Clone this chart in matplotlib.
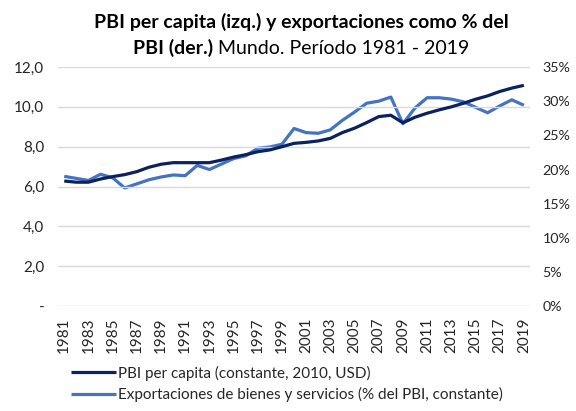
import matplotlib
matplotlib.use("Agg")
from matplotlib import pyplot as plt
from matplotlib.ticker import FuncFormatter

plt.rcParams['font.family'] = ['Lato', 'DejaVu Sans']

years = list(range(1981, 2020))

# PBI per capita, miles de USD constantes 2010 (eje izq.)
pbi_pc = [6.28, 6.22, 6.22, 6.38, 6.50, 6.60, 6.75, 6.97, 7.12, 7.20,
          7.20, 7.20, 7.20, 7.33, 7.48, 7.60, 7.75, 7.84, 8.00, 8.17,
          8.22, 8.29, 8.42, 8.71, 8.93, 9.21, 9.51, 9.58, 9.20, 9.48,
          9.68, 9.85, 10.00, 10.18, 10.38, 10.55, 10.77, 10.94, 11.08]

# Exportaciones de bienes y servicios, % del PBI (eje der.)
export_pct = [19.0, 18.7, 18.4, 19.3, 18.8, 17.3, 17.9, 18.5, 18.9, 19.2,
              19.1, 20.6, 20.0, 20.8, 21.6, 22.0, 23.1, 23.3, 23.7, 26.0,
              25.4, 25.3, 25.8, 27.2, 28.4, 29.7, 30.0, 30.6, 26.7, 29.0,
              30.5, 30.5, 30.3, 29.9, 29.1, 28.3, 29.3, 30.2, 29.4]

left_ticks = [0, 2, 4, 6, 8, 10, 12]
right_ticks = [0, 5, 10, 15, 20, 25, 30, 35]
label_years = years[::2]

dark = '#0c2260'
blue = '#4472c4'
text_col = '#262626'

fig = plt.figure(figsize=(5.76, 4.11), dpi=100)
ax = fig.add_axes([0.101, 0.255, 0.819, 0.582])
ax2 = ax.twinx()

l1, = ax.plot(years, pbi_pc, color=dark, lw=2.3, solid_capstyle='butt', zorder=3,
              label='PBI per capita (constante, 2010, USD)')
l2, = ax2.plot(years, export_pct, color=blue, lw=2.3, solid_capstyle='butt', zorder=3,
               label='Exportaciones de bienes y servicios (% del PBI, constante)')
ax2.set_zorder(ax.get_zorder() - 1)
ax.patch.set_visible(False)
ax.set_zorder(2)

ax.set_xlim(1980.5, 2019.5)
ax.set_ylim(0, 12)
ax2.set_ylim(0, 35)
ax.set_yticks(left_ticks)
ax2.set_yticks(right_ticks)
ax.yaxis.set_major_formatter(FuncFormatter(lambda v, p: '-' if v == 0 else f'{v:.1f}'.replace('.', ',')))
ax2.yaxis.set_major_formatter(FuncFormatter(lambda v, p: f'{v:.0f}%'))
ax.set_xticks(label_years)
ax.set_xticklabels([str(y) for y in label_years], rotation=90)

ax.grid(axis='y', color='#d9d9d9', lw=1)
ax.set_axisbelow(True)
for a in (ax, ax2):
    for s in a.spines.values():
        s.set_visible(False)
    a.tick_params(length=0, labelsize=11, colors=text_col)
ax.tick_params(axis='y', pad=10)
ax2.tick_params(axis='y', pad=9, labelsize=10.3)
ax.tick_params(axis='x', pad=8)

fig.legend(handles=[l1, l2], loc='upper left', bbox_to_anchor=(0.113, 0.125),
           frameon=False, fontsize=11, handlelength=2.9, handletextpad=0.15,
           labelspacing=0.42, labelcolor=text_col, borderaxespad=0)

# titulo en dos lineas, la segunda con parte en negrita
W = fig.get_figwidth() * fig.dpi
cx = 301 / W
fig.text(cx, 1 - 22 / 411, 'PBI per capita (izq.) y exportaciones como % del',
         ha='center', va='center', fontsize=14, weight='bold', color='black')
y2 = 1 - 48 / 411
tb = fig.text(0, y2, 'PBI (der.) ', va='center', fontsize=14, weight='bold', color='black')
tn = fig.text(0, y2, 'Mundo. Período 1981 - 2019', va='center', fontsize=14, color='black')
fig.canvas.draw()
r = fig.canvas.get_renderer()
wb = tb.get_window_extent(r).width
wn = tn.get_window_extent(r).width
x0 = cx * W - (wb + wn) / 2
tb.set_x(x0 / W)
tn.set_x((x0 + wb) / W)

fig.savefig('out.png', dpi=100)
